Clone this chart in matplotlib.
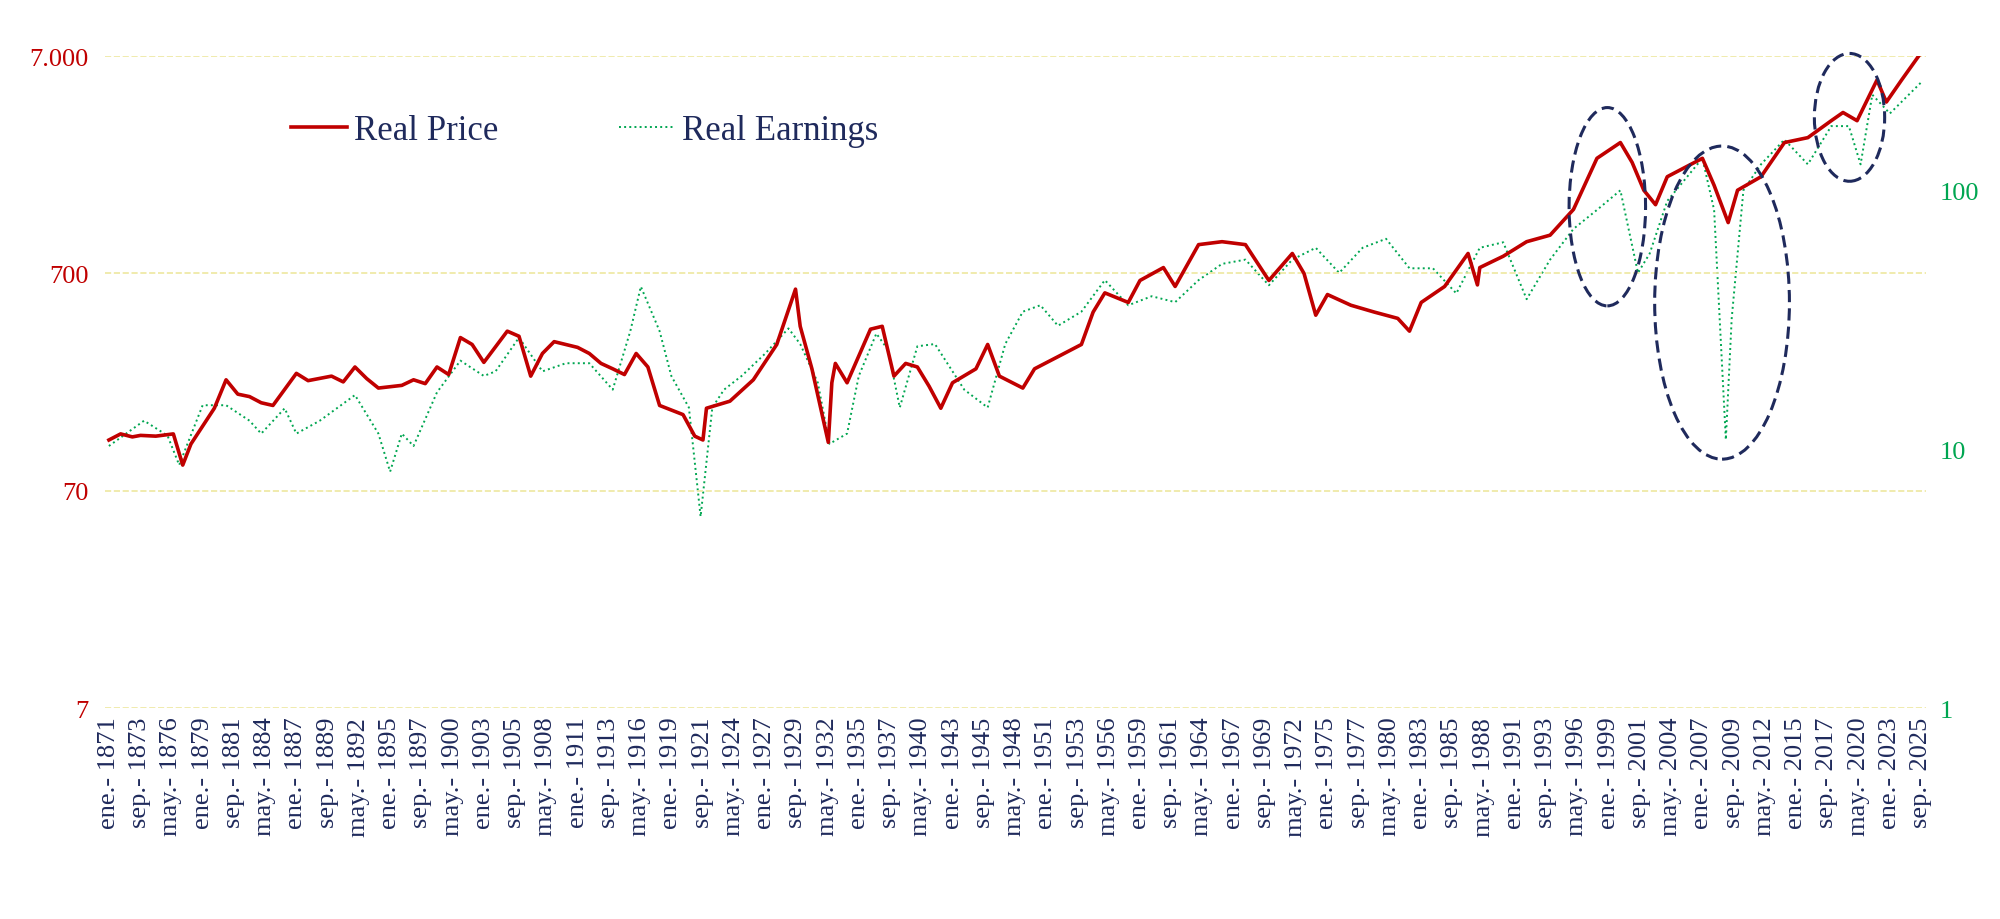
import matplotlib.pyplot as plt
from matplotlib.patches import Ellipse
from matplotlib.ticker import FixedLocator, FixedFormatter, NullLocator

# Data, year -> value
price_years = [1871, 1872, 1873, 1873.7, 1875, 1876.5, 1877.3, 1878, 1880, 1881, 1882, 1883, 1884, 1885,
               1887, 1888, 1890, 1891, 1892, 1893, 1894, 1896, 1897, 1898, 1899, 1900, 1901, 1902,
               1903, 1905, 1906, 1907, 1908, 1909, 1911, 1912, 1913, 1914, 1915, 1916, 1917, 1918,
               1920, 1921, 1921.7, 1922, 1924, 1926, 1928, 1929.6, 1930, 1931, 1932.4, 1932.7, 1933,
               1934, 1936, 1937, 1938, 1939, 1940, 1941, 1942, 1943, 1945, 1946, 1947, 1949, 1950,
               1952, 1954, 1955, 1956, 1958, 1959, 1961, 1962, 1964, 1966, 1968, 1970, 1972, 1973,
               1974, 1975, 1977, 1979, 1981, 1982, 1983, 1985, 1987, 1987.8, 1988, 1990, 1992, 1994,
               1996, 1998, 2000, 2001, 2002, 2003, 2004, 2007, 2008, 2009.2, 2010, 2012, 2014, 2016,
               2018, 2019, 2020.2, 2021.9, 2022.7, 2024, 2025.7]
real_price = [120, 128, 124, 126, 125, 128, 92, 115, 168, 227, 195, 190, 178, 173,
              243, 225, 236, 222, 260, 230, 208, 214, 227, 218, 260, 240, 355, 330,
              273, 380, 360, 236, 300, 340, 320, 300, 270, 255, 240, 300, 260, 173,
              157, 125, 120, 168, 181, 227, 330, 593, 400, 255, 117, 220, 270,
              220, 388, 400, 236, 270, 260, 212, 168, 220, 255, 330, 236, 208, 255,
              290, 330, 465, 570, 515, 650, 745, 610, 950, 980, 950, 650, 865, 700,
              450, 560, 500, 465, 435, 380, 515, 610, 865, 620, 745, 840, 980, 1050,
              1380, 2370, 2800, 2270, 1690, 1450, 1950, 2370, 1780, 1200, 1690, 1950, 2800, 2950,
              3530, 3850, 3530, 5430, 4300, 5430, 7300]

earn_years = [1871, 1874, 1876, 1877, 1879, 1881, 1883, 1884, 1886, 1887, 1889, 1892, 1894, 1895,
              1896, 1897, 1899, 1901, 1903, 1904, 1906, 1908, 1910, 1912, 1914, 1915.5, 1916.4, 1918,
              1919, 1920.5, 1921.5, 1922.5, 1923.5, 1925, 1927, 1929, 1930, 1931.5, 1932.5, 1934,
              1935, 1936.5, 1937.5, 1938.5, 1940, 1941.5, 1943, 1944, 1946, 1947.5, 1949, 1950.5,
              1952, 1954, 1956, 1958, 1960, 1962, 1964, 1966, 1968, 1970, 1972, 1974, 1976, 1978,
              1980, 1982, 1984, 1986, 1988, 1990, 1992, 1994, 1996, 1998, 2000, 2001.5, 2002.5,
              2004, 2007, 2008, 2009, 2009.5, 2010.5, 2012, 2014, 2016, 2018, 2019.5, 2020.5,
              2021.5, 2023, 2025.7]
real_earnings = [10.3, 12.9, 11.3, 8.7, 14.8, 14.8, 12.9, 11.5, 14.4, 11.5, 12.9, 16.2, 11.5, 8.2,
                 11.5, 10.3, 16.6, 22, 19.2, 20, 27, 20, 21.5, 21.5, 17, 28.6, 42.5, 28.6,
                 19.2, 14.5, 5.5, 14.5, 17, 19.2, 23.4, 29.3, 25.5, 18.1, 10.5, 11.5,
                 19.2, 28, 24.2, 14.5, 25, 25.5, 20, 17, 14.5, 25.5, 34, 36,
                 30, 34, 45, 36, 39, 37, 45, 52, 54, 43, 54, 60, 48, 60,
                 65, 50, 50, 40, 60, 63, 38, 54, 71, 84, 100, 48, 57,
                 91, 133, 84, 10.9, 32, 100, 126, 157, 126, 177, 177, 126,
                 234, 198, 262]

months_es = ['ene.', 'feb.', 'mar.', 'abr.', 'may.', 'jun.', 'jul.', 'ago.', 'sep.', 'oct.', 'nov.', 'dic.']
start_year = 1871
n_months = 1857
tick_step = 32

to_x = lambda yrs: [(y - start_year) * 12 for y in yrs]

font = ['Liberation Serif', 'DejaVu Serif']
red = '#C00000'
green = '#00A651'
navy = '#1F2A5C'

fig = plt.figure(figsize=(20, 9.2), dpi=100)
ax = fig.add_axes([0.0525, 0.229, 0.9105, 0.709])
ax2 = ax.twinx()

ax.plot(to_x(price_years), real_price, color=red, lw=2.6, label='Real Price', zorder=3)
ax2.plot(to_x(earn_years), real_earnings, color=green, lw=1.4, ls=':', label='Real Earnings')
ax.set_zorder(ax2.get_zorder() + 1)
ax.patch.set_visible(False)

ax.set_yscale('log')
ax2.set_yscale('log')
ax.set_ylim(7, 7000)
ax2.set_ylim(1, 10 ** (510 / 202.5))
ax.set_xlim(-4, n_months + 4)

ax.yaxis.set_major_locator(FixedLocator([7, 70, 700, 7000]))
ax.yaxis.set_major_formatter(FixedFormatter(['7', '70', '700', '7.000']))
ax.yaxis.set_minor_locator(NullLocator())
ax2.yaxis.set_major_locator(FixedLocator([1, 10, 100]))
ax2.yaxis.set_major_formatter(FixedFormatter(['1', '10', '100']))
ax2.yaxis.set_minor_locator(NullLocator())

ticks = list(range(0, n_months, tick_step))
labels = [f"{months_es[t % 12]}- {start_year + t // 12}" for t in ticks]
ax.set_xticks(ticks)
ax.set_xticklabels(labels, rotation=90, family=font, fontsize=19, color=navy)

for lab in ax.get_yticklabels():
    lab.set_family(font); lab.set_fontsize(19); lab.set_color(red)
for lab in ax2.get_yticklabels():
    lab.set_family(font); lab.set_fontsize(19); lab.set_color(green)

ax.grid(axis='y', color='#EEE8A0', ls='--', lw=1.2)
ax.tick_params(length=0, pad=12)
ax.tick_params(axis='x', pad=6)
ax2.tick_params(length=0, pad=10)
for a in (ax, ax2):
    for s in a.spines.values():
        s.set_visible(False)

for cx, cy, w, h in [(0.825, 0.769, 0.042, 0.304), (0.888, 0.622, 0.074, 0.48), (0.958, 0.906, 0.0386, 0.196)]:
    ax.add_patch(Ellipse((cx, cy), w, h, transform=ax.transAxes, fill=False, clip_on=False,
                         ec=navy, lw=2.2, ls=(0, (4, 2)), zorder=5))

h1, l1 = ax.get_legend_handles_labels()
h2, l2 = ax2.get_legend_handles_labels()
ax.legend(h1 + h2, l1 + l2, loc='center left', bbox_to_anchor=(0.085, 0.886), ncol=2, frameon=False,
          prop={'family': font, 'size': 25}, labelcolor=navy, handlelength=1.6, handletextpad=0.2,
          columnspacing=3.5)

fig.savefig('out.png', dpi=100, facecolor='white')
